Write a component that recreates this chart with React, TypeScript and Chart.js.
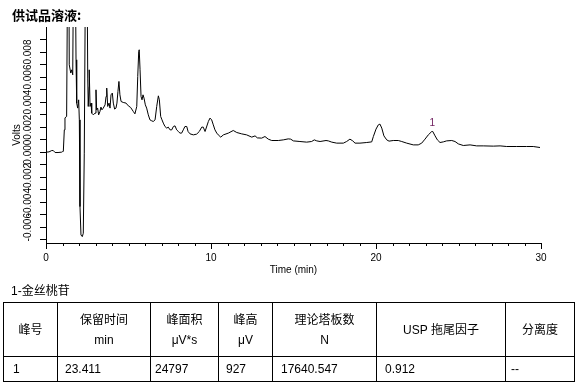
import React, { useEffect, useRef } from 'react';
import { Chart, registerables } from 'chart.js';

Chart.register(...registerables);

// ---- data (time in min, signal in Volts) ----
const TIMES = [
  0.00, 0.18, 0.35, 0.44, 0.55, 0.73, 0.95, 1.01, 1.05, 1.11,
  1.15, 1.25, 1.36, 1.41, 1.50, 1.56, 1.62, 1.72, 1.82, 1.86,
  1.92, 1.98, 2.02, 2.06, 2.12, 2.20, 2.26, 2.32, 2.44, 2.53,
  2.56, 2.61, 2.62, 2.67, 2.73, 2.77, 2.87, 2.97, 3.03, 3.07,
  3.13, 3.19, 3.27, 3.33, 3.39, 3.47, 3.58, 3.64, 3.68, 3.74,
  3.82, 3.88, 3.94, 4.02, 4.08, 4.16, 4.24, 4.30, 4.36, 4.42,
  4.48, 4.55, 4.68, 4.85, 4.99, 5.13, 5.29, 5.39, 5.50, 5.56,
  5.62, 5.65, 5.70, 5.76, 5.82, 5.88, 5.94, 6.02, 6.10, 6.20,
  6.30, 6.41, 6.50, 6.61, 6.71, 6.81, 6.87, 6.95, 7.03, 7.11,
  7.21, 7.32, 7.41, 7.52, 7.62, 7.72, 7.82, 7.92, 8.02, 8.12,
  8.22, 8.32, 8.42, 8.53, 8.61, 8.73, 8.93, 9.13, 9.29, 9.44,
  9.53, 9.64, 9.84, 9.94, 10.04, 10.14, 10.24, 10.35, 10.44, 10.59,
  10.75, 11.05, 11.35, 11.56, 11.86, 12.16, 12.47, 12.67, 12.81, 13.07,
  13.27, 13.47, 13.68, 14.08, 14.38, 14.68, 14.83, 14.99, 15.39, 15.80,
  16.10, 16.26, 16.41, 16.61, 16.97, 17.11, 17.32, 17.62, 18.02, 18.22,
  18.42, 18.59, 18.73, 19.03, 19.44, 19.74, 19.84, 20.00, 20.14, 20.24,
  20.35, 20.48, 20.65, 20.79, 21.05, 21.35, 21.56, 21.86, 22.26, 22.56,
  22.77, 22.97, 23.17, 23.38, 23.44, 23.58, 23.72, 23.88, 24.08, 24.28,
  24.59, 24.79, 24.99, 25.29, 25.70, 26.10, 26.50, 27.11, 27.52, 27.92,
  28.53, 29.13, 29.53, 29.94,
];

const VOLTS = [
  0, 0.00002, 0.00013, 0.00013, -0.00003, -0.00003, 0, 0.00005, 0.00006, 0.00178,
  0.00274, 0.00285, 0.025, 0.00698, 0.00632, 0.00658, 0.00618, 0.025, 0.00738, 0.00392,
  0.00352, 0.00418, 0.00258, -0.00435, -0.00662, -0.00675, -0.00648, -0.00008, 0.025, 0.00592,
  0.00365, 0.00525, 0.00658, 0.00365, 0.00392, 0.00312, 0.00298, 0.00312, 0.00498, 0.00338,
  0.00352, 0.00298, 0.00325, 0.0036, 0.00338, 0.00352, 0.00378, 0.00445, 0.00512, 0.00365,
  0.00392, 0.00352, 0.00458, 0.00472, 0.00392, 0.00344, 0.00352, 0.00392, 0.00485, 0.00565,
  0.00458, 0.00405, 0.00397, 0.00392, 0.0037, 0.00357, 0.00325, 0.00306, 0.00365, 0.00605,
  0.00805, 0.00818, 0.00658, 0.00445, 0.00418, 0.00458, 0.00432, 0.00378, 0.00352, 0.00298,
  0.00258, 0.0025, 0.00245, 0.00258, 0.00365, 0.0045, 0.00418, 0.00285, 0.00258, 0.00232,
  0.00205, 0.00192, 0.002, 0.00178, 0.00178, 0.00205, 0.0021, 0.00178, 0.00165, 0.00152,
  0.00152, 0.00178, 0.00205, 0.00205, 0.00165, 0.00146, 0.00138, 0.00144, 0.00165, 0.002,
  0.002, 0.00165, 0.00245, 0.00272, 0.00258, 0.00218, 0.00178, 0.00152, 0.00138, 0.0012,
  0.00138, 0.00152, 0.00173, 0.00157, 0.00146, 0.00138, 0.0012, 0.0013, 0.00114, 0.00112,
  0.00125, 0.00104, 0.00093, 0.00093, 0.00098, 0.00106, 0.00104, 0.0009, 0.00085, 0.0008,
  0.00085, 0.00098, 0.0009, 0.00085, 0.00093, 0.0009, 0.0008, 0.00072, 0.00072, 0.00085,
  0.00104, 0.0009, 0.00072, 0.00072, 0.00077, 0.00082, 0.00125, 0.00184, 0.00218, 0.00224,
  0.00192, 0.0013, 0.00098, 0.00088, 0.00093, 0.00093, 0.00085, 0.00072, 0.00058, 0.00058,
  0.00072, 0.00104, 0.00138, 0.00165, 0.00165, 0.0013, 0.00098, 0.00077, 0.00082, 0.0009,
  0.00093, 0.00085, 0.00066, 0.00053, 0.00058, 0.0005, 0.0005, 0.00048, 0.0005, 0.00045,
  0.00045, 0.00045, 0.00045, 0.00037,
];

const X_MIN = 0;
const X_MAX = 30;
const Y_MIN = -0.00726;
const Y_MAX = 0.0100;
const X_TICKS = [0, 1, 2, 3, 4, 5, 6, 7, 8, 9, 10, 11, 12, 13, 14, 15, 16, 17, 18, 19, 20, 21, 22, 23, 24, 25, 26, 27, 28, 29, 30];
const X_LABELS = [0, 10, 20, 30];
const Y_TICKS = [-0.007, -0.006, -0.005, -0.004, -0.003, -0.002, -0.001, 0, 0.001, 0.002, 0.003, 0.004, 0.005, 0.006, 0.007, 0.008, 0.009];
const Y_LABELS = [-0.006, -0.004, -0.002, 0, 0.002, 0.004, 0.006, 0.008];
const PEAK_TIMES = [23.411];
const PEAK_NAMES = ['1'];

const CHART_TITLE = '供试品溶液:';
const X_TITLE = 'Time (min)';
const Y_TITLE = 'Volts';
const COMPOUND = '1-金丝桃苷';
const TABLE_HEAD = [
  ['峰号'],
  ['保留时间', 'min'],
  ['峰面积', 'μV*s'],
  ['峰高', 'μV'],
  ['理论塔板数', 'N'],
  ['USP 拖尾因子'],
  ['分离度'],
];
const TABLE_ROW = ['1', '23.411', '24797', '927', '17640.547', '0.912', '--'];

const COL_WIDTHS = [54, 93, 68, 54, 104, 129, 69];
const CELL_PAD = [9, 7, 4, 7, 8, 8, 5];

const FONT = '"Liberation Sans", Arial, "Noto Sans CJK SC", sans-serif';

const decorPlugin = {
  id: 'decor',
  afterDraw(chart: any) {
    const { ctx, chartArea, scales } = chart;
    const x = scales.x;
    const y = scales.y;
    ctx.save();
    ctx.strokeStyle = '#000';
    ctx.lineWidth = 1;
    for (const t of X_TICKS) {
      const px = Math.round(x.getPixelForValue(t)) + 0.5;
      const len = X_LABELS.includes(t) ? 6 : 3;
      ctx.beginPath();
      ctx.moveTo(px, chartArea.bottom);
      ctx.lineTo(px, chartArea.bottom + len);
      ctx.stroke();
    }
    ctx.font = '10px ' + FONT;
    ctx.fillStyle = '#000';
    ctx.textAlign = 'center';
    ctx.textBaseline = 'middle';
    for (const v of Y_LABELS) {
      const py = y.getPixelForValue(v);
      ctx.save();
      ctx.translate(28, py);
      ctx.rotate(-Math.PI / 2);
      ctx.fillText(v.toFixed(3), 0, 0);
      ctx.restore();
    }
    ctx.fillStyle = '#702060';
    PEAK_TIMES.forEach((pt, i) => {
      let best = -Infinity;
      TIMES.forEach((t, j) => {
        if (Math.abs(t - pt) < 0.3 && VOLTS[j] > best) best = VOLTS[j];
      });
      const px = x.getPixelForValue(pt);
      const py = y.getPixelForValue(best);
      ctx.fillText(PEAK_NAMES[i], px, py - 8.5);
    });
    ctx.restore();
  },
};

function Chromatogram() {
  const ref = useRef<HTMLCanvasElement | null>(null);
  useEffect(() => {
    if (!ref.current) return;
    const data = TIMES.map((t, i) => ({ x: t, y: VOLTS[i] }));
    const chart = new Chart(ref.current, {
      type: 'line',
      data: {
        datasets: [
          {
            data,
            borderColor: '#000',
            borderWidth: 1,
            pointRadius: 0,
            tension: 0,
            fill: false,
          },
        ],
      },
      options: {
        animation: false,
        responsive: false,
        devicePixelRatio: 1,
        layout: { padding: { top: 27, right: 46, bottom: 0, left: 0 } },
        plugins: { legend: { display: false }, tooltip: { enabled: false }, title: { display: false } },
        scales: {
          x: {
            type: 'linear',
            position: 'bottom',
            min: X_MIN,
            max: X_MAX,
            border: { display: true, color: '#000', width: 1 },
            grid: { display: false },
            ticks: {
              autoSkip: false,
              maxRotation: 0,
              padding: 1,
              color: '#000',
              font: { family: FONT, size: 10 },
              callback: (v: any) => (X_LABELS.includes(Number(v)) ? String(v) : ''),
            },
            afterBuildTicks: (s: any) => {
              s.ticks = X_TICKS.map((v) => ({ value: v }));
            },
            afterFit: (s: any) => {
              s.height = 42;
            },
            title: {
              display: true,
              text: X_TITLE,
              color: '#000',
              font: { family: FONT, size: 10 },
              padding: { top: 0, bottom: 9 },
            },
          },
          y: {
            type: 'linear',
            position: 'left',
            min: Y_MIN,
            max: Y_MAX,
            border: { display: true, color: '#000', width: 1 },
            grid: { display: true, drawOnChartArea: false, drawTicks: true, tickLength: 6, color: '#000', tickColor: '#000' },
            ticks: { display: false },
            afterBuildTicks: (s: any) => {
              s.ticks = Y_TICKS.map((v) => ({ value: v }));
            },
            afterFit: (s: any) => {
              s.width = 46;
            },
            title: {
              display: true,
              text: Y_TITLE,
              color: '#000',
              font: { family: FONT, size: 10 },
              padding: { top: 11, bottom: 0 },
            },
          },
        },
      } as any,
      plugins: [decorPlugin],
    });
    return () => chart.destroy();
  }, []);
  return <canvas ref={ref} width={587} height={285} style={{ position: 'absolute', left: 0, top: 0, width: 587, height: 285 }} />;
}

export default function App() {
  const cellBorder = '1px solid #000';
  return (
    <div style={{ position: 'absolute', left: 0, top: 0, width: 587, height: 390, background: '#fff', fontFamily: FONT, color: '#000' }}>
      <Chromatogram />
      <div style={{ position: 'absolute', left: 12, top: 8, fontSize: 13, lineHeight: '13px', fontWeight: 'bold', fontFamily: '"Noto Sans CJK SC", sans-serif' }}>
        {CHART_TITLE}
      </div>
      <div style={{ position: 'absolute', left: 11, top: 284, fontSize: 12, lineHeight: '14px' }}>{COMPOUND}</div>
      <table
        style={{
          position: 'absolute',
          left: 3,
          top: 302,
          borderCollapse: 'collapse',
          tableLayout: 'fixed',
          width: COL_WIDTHS.reduce((a, b) => a + b, 0),
          fontSize: 12,
        }}
      >
        <colgroup>
          {COL_WIDTHS.map((w, i) => (
            <col key={i} style={{ width: w }} />
          ))}
        </colgroup>
        <tbody>
          <tr style={{ height: 54 }}>
            {TABLE_HEAD.map((lines, i) => (
              <td key={i} style={{ border: cellBorder, textAlign: 'center', verticalAlign: 'middle', padding: 0, lineHeight: '20px' }}>
                {lines.map((l, j) => (
                  <div key={j}>{l}</div>
                ))}
              </td>
            ))}
          </tr>
          <tr style={{ height: 25 }}>
            {TABLE_ROW.map((c, i) => (
              <td key={i} style={{ border: cellBorder, textAlign: 'left', verticalAlign: 'middle', padding: 0, paddingLeft: CELL_PAD[i], lineHeight: '14px' }}>
                {c}
              </td>
            ))}
          </tr>
        </tbody>
      </table>
    </div>
  );
}
